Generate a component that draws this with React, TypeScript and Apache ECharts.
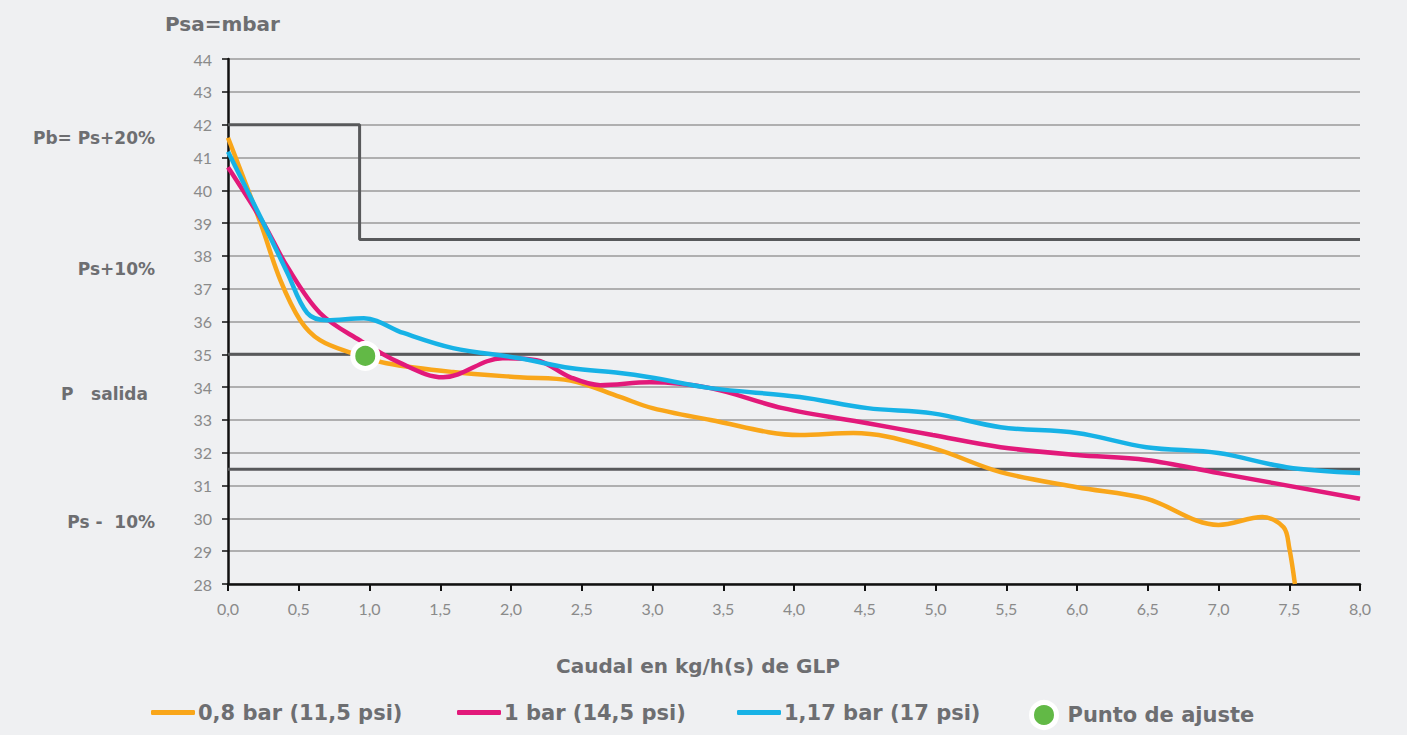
import React, { useEffect, useRef } from "react";
import * as echarts from "echarts";

// ---------- data ----------
const seriesNames = ["0,8 bar (11,5 psi)", "1 bar (14,5 psi)", "1,17 bar (17 psi)"];
const pointName = "Punto de ajuste";

const x08 = [0, 0.23, 0.37, 0.51, 0.65, 0.88, 1.12, 1.59, 2.06, 2.42, 2.77, 3.0, 3.41, 4.04, 4.42, 4.98, 5.46, 6.0, 6.49, 7.0, 7.31, 7.46, 7.5, 7.54];
const y08 = [41.6, 39.0, 37.26, 36.04, 35.43, 35.03, 34.73, 34.46, 34.3, 34.2, 33.7, 33.36, 33.0, 32.54, 32.6, 32.14, 31.41, 30.95, 30.6, 29.8, 30.04, 29.73, 29.1, 28.0];

const x10 = [0, 0.25, 0.42, 0.65, 0.93, 1.22, 1.52, 1.94, 2.18, 2.42, 2.63, 2.98, 3.41, 3.92, 4.52, 4.98, 5.46, 6.0, 6.49, 7.0, 8.0];
const y10 = [40.7, 39.0, 37.66, 36.26, 35.43, 34.73, 34.3, 34.88, 34.82, 34.3, 34.06, 34.15, 33.97, 33.36, 32.9, 32.54, 32.17, 31.93, 31.78, 31.38, 30.6];

const x117 = [0, 0.25, 0.42, 0.56, 0.7, 0.96, 1.24, 1.59, 2.06, 2.42, 2.77, 2.98, 3.41, 4.04, 4.52, 4.98, 5.46, 6.0, 6.49, 7.0, 7.48, 8.0];
const y117 = [41.17, 39.0, 37.48, 36.26, 36.04, 36.1, 35.65, 35.19, 34.88, 34.58, 34.43, 34.3, 33.97, 33.7, 33.36, 33.2, 32.78, 32.6, 32.17, 31.99, 31.56, 31.38];

const adjustPoint = [0.97, 34.95];

// reference limits
const stepX = [0, 0.93, 0.93, 8];
const stepY = [42, 42, 38.5, 38.5];
const pSalida = 35;
const pMinus10 = 31.5;

const sideLabels = ["Pb= Ps+20%", "Ps+10%", "P   salida", "Ps -  10%"];
const sideLabelValues = [41.6, 37.6, 33.8, 29.9];

const colors = ["#f9a61a", "#e2197a", "#17b2e6"];
const green = "#62b946";

const zip = (xs: number[], ys: number[]) => xs.map((x, i) => [x, ys[i]]);

export default function App() {
  const ref = useRef<HTMLDivElement>(null);
  useEffect(() => {
    if (!ref.current) return;
    const chart = echarts.init(ref.current, undefined, { renderer: "svg" });
    const boldFont = "'DejaVu Sans', sans-serif";
    const tickFont = "Lato, 'Open Sans', sans-serif";
    const textGray = "#6d6e71";
    const gridTop = 59;
    const gridBottom = 151;
    const plotH = 735 - gridTop - gridBottom;
    const yToPx = (v: number) => gridTop + ((44 - v) / 16) * plotH;

    const lineSeries = [
      { name: seriesNames[0], data: zip(x08, y08) },
      { name: seriesNames[1], data: zip(x10, y10) },
      { name: seriesNames[2], data: zip(x117, y117) },
    ].map((s, i) => ({
      type: "line",
      name: s.name,
      data: s.data,
      smooth: 0.35,
      showSymbol: false,
      symbol: "none",
      z: 5 + i,
      lineStyle: { color: colors[i], width: 4.5 },
      itemStyle: { color: colors[i] },
    }));

    const refLine = (data: number[][]) => ({
      type: "line",
      data,
      showSymbol: false,
      symbol: "none",
      silent: true,
      z: 3,
      lineStyle: { color: "#58595b", width: 3 },
    });

    const legendText = {
      fontSize: 21,
      fontWeight: "bold",
      color: textGray,
      fontFamily: boldFont,
      padding: [0, 0, 0, -2],
    };
    const lineLegendLefts = [151, 457, 737];

    chart.setOption({
      animation: false,
      backgroundColor: "#eff0f2",
      textStyle: { fontFamily: tickFont },
      grid: { left: 228, right: 47, top: gridTop, bottom: gridBottom },
      xAxis: {
        type: "value",
        min: 0,
        max: 8,
        interval: 0.5,
        name: "Caudal en kg/h(s) de GLP",
        nameLocation: "middle",
        nameGap: 72,
        nameTextStyle: {
          fontSize: 20,
          fontWeight: "bold",
          color: textGray,
          fontFamily: boldFont,
          padding: [0, 192, 0, 0],
        },
        axisLine: { onZero: false, lineStyle: { color: "#111", width: 2.5 } },
        axisTick: { show: true, length: 7, lineStyle: { color: "#111", width: 2 } },
        axisLabel: {
          fontSize: 16,
          color: "#8a8a8a",
          fontFamily: tickFont,
          margin: 16,
          formatter: (v: number) => v.toFixed(1).replace(".", ","),
        },
        splitLine: { show: false },
      },
      yAxis: {
        type: "value",
        min: 28,
        max: 44,
        interval: 1,
        axisLine: { show: true, lineStyle: { color: "#111", width: 2.5 } },
        axisTick: { show: true, length: 6, lineStyle: { color: "#111", width: 1.5 } },
        axisLabel: { fontSize: 16, color: "#8a8a8a", fontFamily: tickFont, margin: 16 },
        splitLine: { show: true, lineStyle: { color: "#9a9a9a", width: 1.5 } },
      },
      legend: [
        ...seriesNames.map((n, i) => ({
          data: [{ name: n, icon: "roundRect" }],
          left: lineLegendLefts[i],
          top: 702,
          padding: 0,
          itemWidth: 44,
          itemHeight: 5,
          textStyle: legendText,
        })),
        {
          data: [
            {
              name: pointName,
              icon: "circle",
              itemStyle: { color: green, borderColor: "#ffffff", borderWidth: 5 },
            },
          ],
          left: 1029,
          top: 700,
          padding: 0,
          itemWidth: 25,
          itemHeight: 25,
          textStyle: { ...legendText, padding: [0, 0, 0, 6] },
        },
      ],
      graphic: [
        {
          type: "text",
          left: 165,
          top: 14,
          style: { text: "Psa=mbar", font: `bold 20px ${boldFont}`, fill: textGray },
        },
        ...sideLabels.map((t, i) => ({
          type: "text",
          x: i === 2 ? 148 : 155,
          y: yToPx(sideLabelValues[i]),
          style: {
            text: t,
            font: `bold 17px ${boldFont}`,
            fill: textGray,
            align: "right",
            verticalAlign: "middle",
          },
        })),
      ],
      series: [
        refLine(zip(stepX, stepY)),
        refLine([[0, pSalida], [8, pSalida]]),
        refLine([[0, pMinus10], [8, pMinus10]]),
        ...lineSeries,
        {
          type: "scatter",
          name: pointName,
          data: [adjustPoint],
          symbol: "circle",
          symbolSize: 25,
          z: 10,
          itemStyle: { color: green, borderColor: "#ffffff", borderWidth: 5, opacity: 1 },
        },
      ],
    });
    return () => chart.dispose();
  }, []);
  return (
    <div
      ref={ref}
      style={{ position: "fixed", left: 0, top: 0, width: 1407, height: 735 }}
    />
  );
}
